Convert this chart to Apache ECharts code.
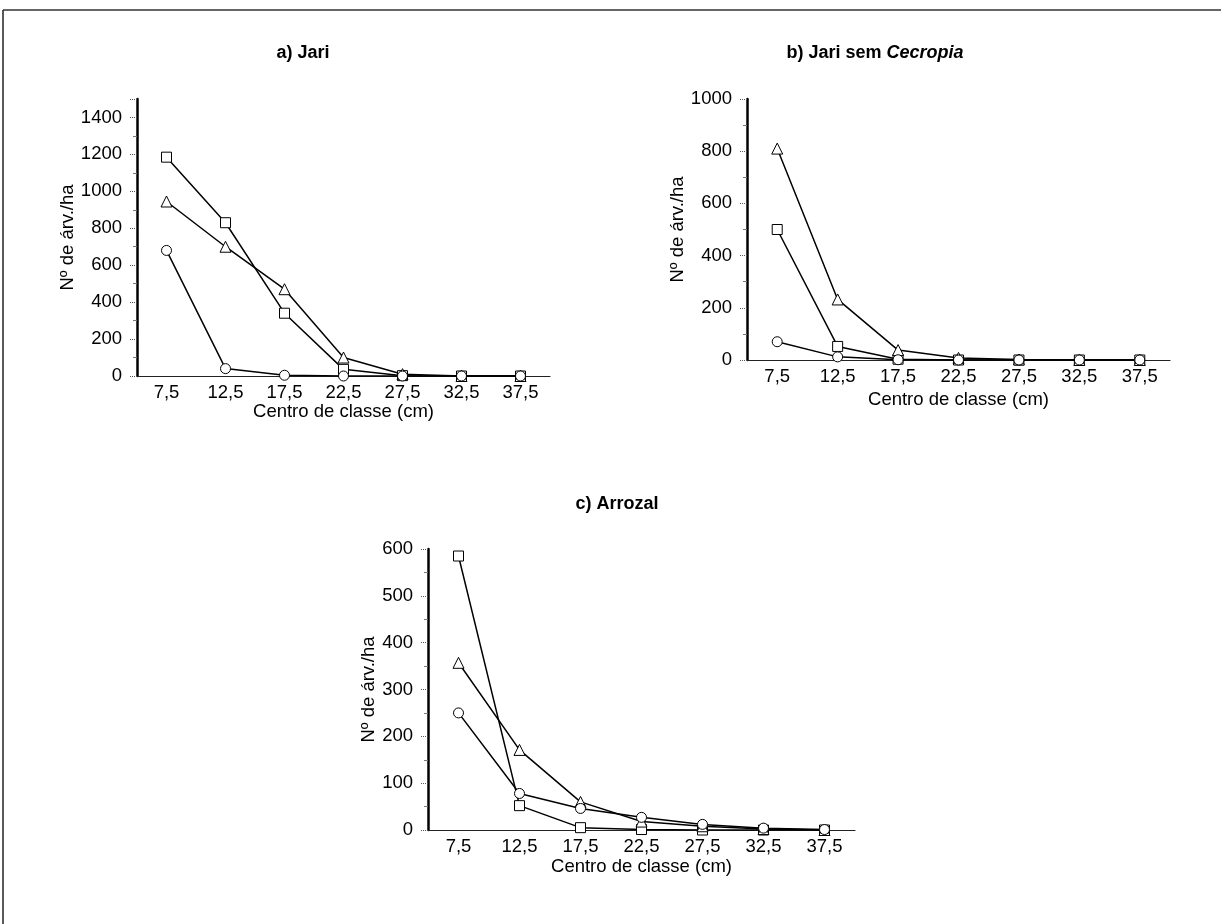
<!DOCTYPE html>
<html>
<head>
<meta charset="utf-8">
<script src="https://cdn.jsdelivr.net/npm/echarts@6/dist/echarts.min.js"></script>
<style>
  html, body { margin: 0; padding: 0; background: #fff; }
  #chart { width: 1221px; height: 924px; }
</style>
</head>
<body>
<div id="chart"></div>
<script>
// class centres (cm)
const classes = ['7,5', '12,5', '17,5', '22,5', '27,5', '32,5', '37,5'];

// a) Jari
const jariSquare = [1185, 830, 340, 36, 2, 0, 0];
const jariTriangle = [945, 700, 470, 100, 10, 0, 0];
const jariCircle = [680, 40, 4, 0, 0, 0, 0];

// b) Jari sem Cecropia
const semSquare = [500, 52, 3, 0, 0, 0, 0];
const semTriangle = [810, 232, 38, 8, 2, 0, 0];
const semCircle = [70, 12, 1, 0, 0, 0, 0];

// c) Arrozal
const arrSquare = [585, 52, 5, 1, 0, 0, 0];
const arrTriangle = [357, 171, 60, 18, 8, 2, 0];
const arrCircle = [250, 78, 46, 27, 12, 4, 1];

const font = 'Liberation Sans, Arial, sans-serif';
const fs = 18.5;
const yName = 'Nº de árv./ha';
const xName = 'Centro de classe (cm)';

const myChart = echarts.init(document.getElementById('chart'));

function xAxis(idx, gap) {
  return {
    type: 'category',
    gridIndex: idx,
    data: classes,
    boundaryGap: true,
    name: xName,
    nameLocation: 'middle',
    nameGap: gap,
    nameTextStyle: { color: '#000', fontSize: fs, fontFamily: font },
    axisLine: { lineStyle: { color: '#222', width: 1.2 } },
    axisTick: { alignWithLabel: true, length: 4, lineStyle: { color: '#666' } },
    axisLabel: { color: '#000', fontSize: fs, fontFamily: font, margin: 7 },
    splitLine: { show: false }
  };
}

function yAxis(idx, max, interval, gap) {
  return {
    type: 'value',
    gridIndex: idx,
    min: 0,
    max: max,
    interval: interval,
    name: yName,
    nameLocation: 'middle',
    nameRotate: 90,
    nameGap: gap,
    nameTextStyle: { color: '#000', fontSize: fs, fontFamily: font },
    axisLine: { show: true, lineStyle: { color: '#000', width: 2.5 } },
    axisTick: { show: true, length: 7, lineStyle: { color: '#555', type: 'dotted' } },
    minorTick: { show: true, splitNumber: 2, length: 4, lineStyle: { color: '#777' } },
    axisLabel: {
      color: '#000', fontSize: fs, fontFamily: font, margin: 15,
      showMaxLabel: max % interval === 0,
      formatter: function (v) { return String(v); }
    },
    splitLine: { show: false }
  };
}

function line(idx, data, symbol) {
  return {
    type: 'line',
    xAxisIndex: idx,
    yAxisIndex: idx,
    data: data,
    symbol: symbol,
    symbolSize: symbol === 'triangle' ? 11 : 10,
    showAllSymbol: true,
    lineStyle: { color: '#000', width: 1.5 },
    itemStyle: { color: '#fff', borderColor: '#000', borderWidth: 1 },
    emphasis: { disabled: true }
  };
}

const titleStyle = { color: '#000', fontSize: 18, fontWeight: 'bold', fontFamily: font };

const option = {
  animation: false,
  backgroundColor: '#fff',
  title: [
    { text: 'a) Jari', left: 298, top: 39, textAlign: 'center', textStyle: titleStyle },
    {
      text: '{n|b) Jari sem }{i|Cecropia}', left: 870, top: 39, textAlign: 'center',
      textStyle: {
        rich: {
          n: titleStyle,
          i: Object.assign({}, titleStyle, { fontStyle: 'italic' })
        }
      }
    },
    { text: 'c) Arrozal', left: 612, top: 490, textAlign: 'center', textStyle: titleStyle }
  ],
  grid: [
    { left: 137, right: 671, top: 99, bottom: 548 },
    { left: 747, right: 51, top: 99, bottom: 564 },
    { left: 428, right: 366, top: 549, bottom: 94 }
  ],
  xAxis: [xAxis(0, 26), xAxis(1, 30), xAxis(2, 27)],
  yAxis: [yAxis(0, 1500, 200, 50), yAxis(1, 1000, 200, 59), yAxis(2, 600, 100, 43)],
  series: [
    line(0, jariSquare, 'rect'),
    line(0, jariTriangle, 'triangle'),
    line(0, jariCircle, 'circle'),
    line(1, semSquare, 'rect'),
    line(1, semTriangle, 'triangle'),
    line(1, semCircle, 'circle'),
    line(2, arrSquare, 'rect'),
    line(2, arrTriangle, 'triangle'),
    line(2, arrCircle, 'circle')
  ],
  graphic: [
    { type: 'line', shape: { x1: 3, y1: 10, x2: 1221, y2: 10 }, style: { stroke: '#333', lineWidth: 1.5 } },
    { type: 'line', shape: { x1: 3, y1: 10, x2: 3, y2: 924 }, style: { stroke: '#222', lineWidth: 1.5 } }
  ]
};

myChart.setOption(option);
</script>
</body>
</html>
